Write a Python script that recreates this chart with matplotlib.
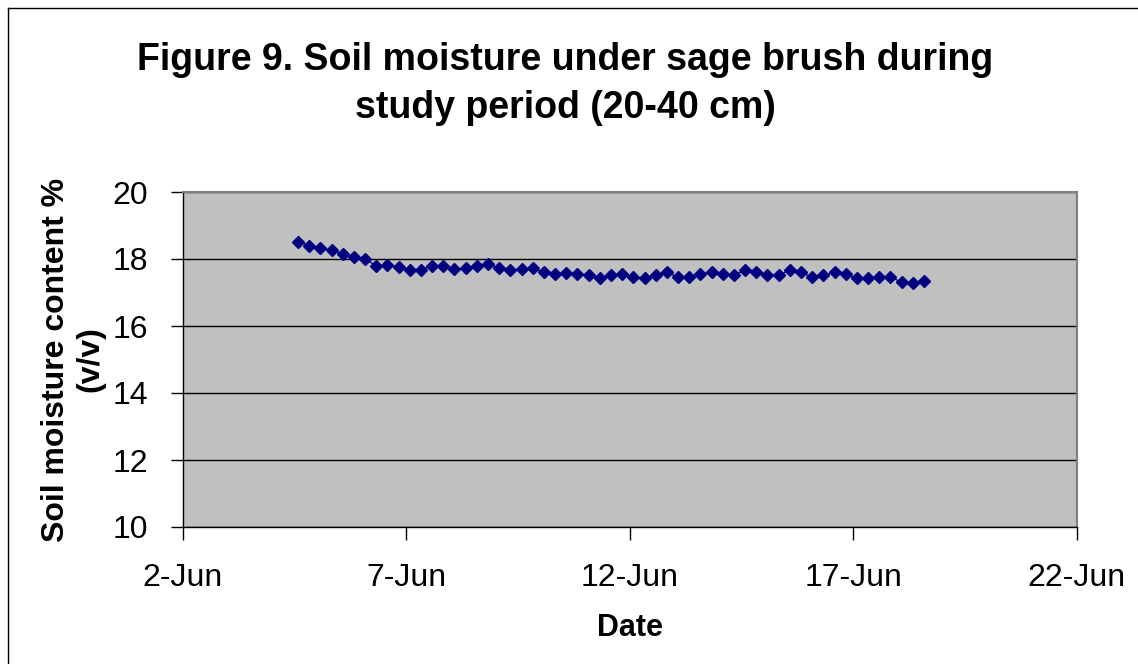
"""Soil moisture under sage brush, 20-40 cm."""

import matplotlib

matplotlib.use("Agg")
import matplotlib.pyplot as plt
import numpy as np
from matplotlib.lines import Line2D

plt.rcParams["font.family"] = ["Liberation Sans", "DejaVu Sans"]

# readings every 6 hours from 4-Jun afternoon
start = np.datetime64("2005-06-04T14:00")
moisture = [
    18.52, 18.40, 18.32, 18.26, 18.16, 18.06, 18.01, 17.79, 17.83, 17.76,
    17.67, 17.68, 17.80, 17.80, 17.70, 17.72, 17.80, 17.84, 17.72, 17.67,
    17.69, 17.72, 17.60, 17.55, 17.59, 17.55, 17.51, 17.42, 17.52, 17.55,
    17.46, 17.42, 17.51, 17.60, 17.46, 17.46, 17.56, 17.61, 17.55, 17.51,
    17.68, 17.60, 17.51, 17.51, 17.68, 17.60, 17.46, 17.51, 17.60, 17.55,
    17.42, 17.42, 17.46, 17.46, 17.31, 17.27, 17.34,
]
times = start + np.arange(len(moisture)) * np.timedelta64(6, "h")

x_ticks = [np.datetime64(f"2005-06-{d:02d}") for d in (2, 7, 12, 17, 22)]
x_labels = ["2-Jun", "7-Jun", "12-Jun", "17-Jun", "22-Jun"]
y_ticks = [10, 12, 14, 16, 18, 20]

W, H = 1138, 664
fig = plt.figure(figsize=(W / 100, H / 100), dpi=100)
ax = fig.add_axes([182.5 / W, 1 - 527 / H, (1076.7 - 182.5) / W, (527 - 192) / H])

ax.set_facecolor("#c0c0c0")
ax.plot(times, moisture, color="#000080", linewidth=1.0, marker="D",
        markersize=6, markerfacecolor="#000080", markeredgecolor="#000080")

ax.set_xlim(x_ticks[0], x_ticks[-1])
ax.set_ylim(10, 20)
ax.set_xticks(x_ticks)
ax.set_xticklabels(x_labels)
ax.set_yticks(y_ticks)
ax.yaxis.grid(True, color="black", linewidth=1.0)
ax.set_axisbelow(True)

ax.tick_params(axis="both", direction="out", length=9, width=1, labelsize=23,
               color="black")
ax.tick_params(axis="x", pad=17)
ax.tick_params(axis="y", pad=16)

for side in ("top", "right"):
    ax.spines[side].set_color("#808080")
    ax.spines[side].set_linewidth(1.5)
for side in ("left", "bottom"):
    ax.spines[side].set_color("black")
    ax.spines[side].set_linewidth(1.0)

ax.set_xlabel("Date", fontsize=22, fontweight="bold", labelpad=14)
ax.set_ylabel("Soil moisture content %\n(v/v)", fontsize=23, fontweight="bold",
              labelpad=5, linespacing=1.2)

fig.text(565 / W, 1 - 84 / H,
         "Figure 9. Soil moisture under sage brush during\nstudy period (20-40 cm)",
         ha="center", va="center", fontsize=27, fontweight="bold",
         linespacing=1.45)

# chart frame (only left and top edges are inside the picture)
fig.add_artist(Line2D([8 / W, 8 / W], [0, 1 - 8 / H], transform=fig.transFigure,
                      color="black", linewidth=1.0))
fig.add_artist(Line2D([8 / W, 1], [1 - 8 / H, 1 - 8 / H], transform=fig.transFigure,
                      color="black", linewidth=1.0))

fig.savefig("out.png", dpi=100)
